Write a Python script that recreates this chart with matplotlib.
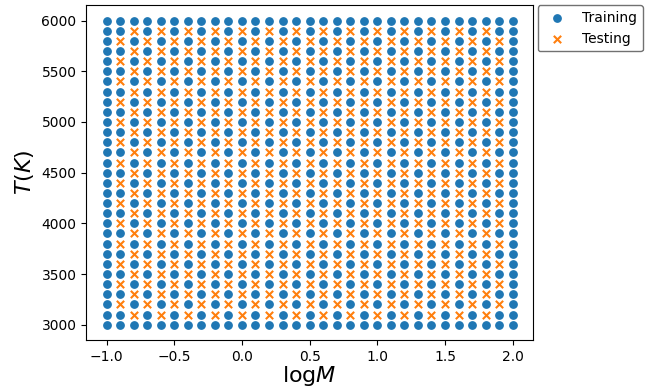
import numpy as np
import matplotlib
matplotlib.use('Agg')
import matplotlib.pyplot as plt

# grid axes
logM_vals = [-1.0, -0.9, -0.8, -0.7, -0.6, -0.5, -0.4, -0.3, -0.2, -0.1, 0.0,
             0.1, 0.2, 0.3, 0.4, 0.5, 0.6, 0.7, 0.8, 0.9, 1.0,
             1.1, 1.2, 1.3, 1.4, 1.5, 1.6, 1.7, 1.8, 1.9, 2.0]
T_vals = [3000, 3100, 3200, 3300, 3400, 3500, 3600, 3700, 3800, 3900, 4000,
          4100, 4200, 4300, 4400, 4500, 4600, 4700, 4800, 4900, 5000,
          5100, 5200, 5300, 5400, 5500, 5600, 5700, 5800, 5900, 6000]

# which set each grid cell belongs to, rows from T=3000 (bottom) to T=6000 (top)
# o = training, x = testing
split_rows = [
    "ooooooooooooooooooooooooooooooo",
    "ooxoxoxoxoxoxoxoxoxoxoxoxoxoxoo",
    "oxoxoxoxoxoxoxoxoxoxoxoxoxoxoxo",
    "ooxoxoxoxoxoxoxoxoxoxoxoxoxoxoo",
    "oxoxoxoxoxoxoxoxoxoxoxoxoxoxoxo",
    "ooxoxoxoxoxoxoxoxoxoxoxoxoxoxoo",
    "oxoxoxoxoxoxoxoxoxoxoxoxoxoxoxo",
    "ooxoxoxoxoxoxoxoxoxoxoxoxoxoxoo",
    "oxoxoxoxoxoxoxoxoxoxoxoxoxoxoxo",
    "ooxoxoxoxoxoxoxoxoxoxoxoxoxoxoo",
    "oxoxoxoxoxoxoxoxoxoxoxoxoxoxoxo",
    "ooxoxoxoxoxoxoxoxoxoxoxoxoxoxoo",
    "oxoxoxoxoxoxoxoxoxoxoxoxoxoxoxo",
    "ooxoxoxoxoxoxoxoxoxoxoxoxoxoxoo",
    "oxoxoxoxoxoxoxoxoxoxoxoxoxoxoxo",
    "ooxoxoxoxoxoxoxoxoxoxoxoxoxoxoo",
    "oxoxoxoxoxoxoxoxoxoxoxoxoxoxoxo",
    "ooxoxoxoxoxoxoxoxoxoxoxoxoxoxoo",
    "oxoxoxoxoxoxoxoxoxoxoxoxoxoxoxo",
    "ooxoxoxoxoxoxoxoxoxoxoxoxoxoxoo",
    "oxoxoxoxoxoxoxoxoxoxoxoxoxoxoxo",
    "ooxoxoxoxoxoxoxoxoxoxoxoxoxoxoo",
    "oxoxoxoxoxoxoxoxoxoxoxoxoxoxoxo",
    "ooxoxoxoxoxoxoxoxoxoxoxoxoxoxoo",
    "oxoxoxoxoxoxoxoxoxoxoxoxoxoxoxo",
    "ooxoxoxoxoxoxoxoxoxoxoxoxoxoxoo",
    "oxoxoxoxoxoxoxoxoxoxoxoxoxoxoxo",
    "ooxoxoxoxoxoxoxoxoxoxoxoxoxoxoo",
    "oxoxoxoxoxoxoxoxoxoxoxoxoxoxoxo",
    "ooxoxoxoxoxoxoxoxoxoxoxoxoxoxoo",
    "ooooooooooooooooooooooooooooooo",
]

train_x, train_y, test_x, test_y = [], [], [], []
for j, row in enumerate(split_rows):
    for i, c in enumerate(row):
        if c == 'x':
            test_x.append(logM_vals[i]); test_y.append(T_vals[j])
        else:
            train_x.append(logM_vals[i]); train_y.append(T_vals[j])

fig = plt.figure(figsize=(6.63, 3.88), dpi=100)
ax = fig.add_axes([0.130, 0.124, 0.674, 0.862])
ax.scatter(train_x, train_y, s=28, color='tab:blue', label='Training')
ax.scatter(test_x, test_y, s=28, marker='x', color='tab:orange', label='Testing')

ax.set_xlabel(r'$\mathrm{log}M$', fontsize=16, labelpad=0)
ax.set_ylabel(r'$T(K)$', fontsize=16)
ax.set_xticks([-1.0, -0.5, 0.0, 0.5, 1.0, 1.5, 2.0])

leg = ax.legend(loc='upper left', bbox_to_anchor=(1.01, 1.0), borderaxespad=0)
leg.get_frame().set_edgecolor('0.3')

fig.savefig('out.png', dpi=100)
